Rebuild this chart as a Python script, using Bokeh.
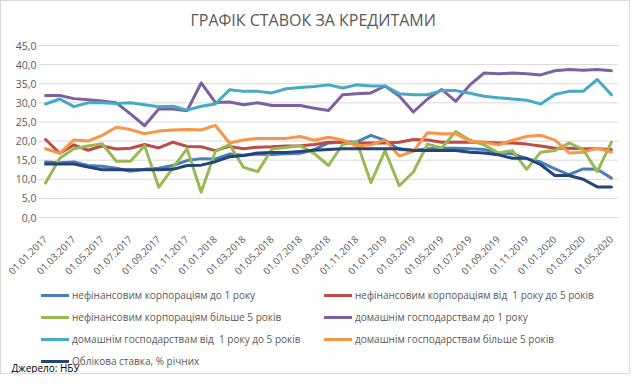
from bokeh.plotting import figure
from bokeh.models import FixedTicker, Legend, LegendItem, Label, Range1d, ColumnDataSource
from bokeh.embed import file_html
from bokeh.resources import INLINE

months = ["01.01.2017", "01.02.2017", "01.03.2017", "01.04.2017", "01.05.2017", "01.06.2017",
          "01.07.2017", "01.08.2017", "01.09.2017", "01.10.2017", "01.11.2017", "01.12.2017",
          "01.01.2018", "01.02.2018", "01.03.2018", "01.04.2018", "01.05.2018", "01.06.2018",
          "01.07.2018", "01.08.2018", "01.09.2018", "01.10.2018", "01.11.2018", "01.12.2018",
          "01.01.2019", "01.02.2019", "01.03.2019", "01.04.2019", "01.05.2019", "01.06.2019",
          "01.07.2019", "01.08.2019", "01.09.2019", "01.10.2019", "01.11.2019", "01.12.2019",
          "01.01.2020", "01.02.2020", "01.03.2020", "01.04.2020", "01.05.2020"]

nonfin_to1 = [14.5, 14.3, 14.5, 13.6, 13.4, 12.9, 12.1, 12.6, 12.9, 13.6, 14.9, 15.4, 15.3, 16.6,
              16.3, 16.6, 16.5, 16.7, 16.8, 17.8, 19.5, 19.7, 19.8, 21.5, 20.2, 17.8, 17.6, 18.0,
              18.1, 18.1, 18.0, 17.8, 16.9, 16.7, 15.4, 14.5, 12.7, 11.2, 12.7, 12.6, 10.3]
nonfin_1to5 = [20.4, 16.8, 19.0, 17.6, 18.7, 17.9, 18.1, 19.1, 18.2, 19.7, 18.6, 18.5, 17.5, 18.6,
               18.0, 18.4, 18.5, 18.7, 18.8, 19.1, 19.7, 19.7, 19.5, 19.5, 19.5, 19.7, 20.4, 20.3,
               19.7, 19.7, 19.7, 19.7, 19.5, 19.5, 19.2, 18.7, 18.1, 18.1, 18.0, 18.0, 17.8]
nonfin_over5 = [9.0, 15.5, 18.0, 18.7, 19.3, 14.7, 14.7, 18.8, 7.9, 13.0, 18.0, 6.6, 17.3, 19.1,
                13.1, 12.0, 17.9, 18.3, 18.8, 16.7, 13.6, 19.1, 19.8, 9.1, 17.5, 8.3, 11.9, 19.2,
                18.2, 22.5, 20.2, 19.0, 16.9, 17.5, 12.6, 17.1, 17.5, 19.5, 17.8, 12.0, 19.7]
hh_to1 = [31.9, 31.9, 31.1, 30.8, 30.5, 30.0, 27.1, 24.0, 28.4, 28.4, 27.9, 35.2, 30.1, 30.2,
          29.5, 30.0, 29.3, 29.3, 29.3, 28.6, 28.0, 32.1, 32.4, 32.6, 34.4, 31.8, 27.6, 31.0,
          33.5, 30.4, 34.7, 37.8, 37.6, 37.8, 37.6, 37.3, 38.4, 38.7, 38.5, 38.7, 38.4]
hh_1to5 = [29.7, 31.0, 29.0, 30.0, 30.0, 29.8, 30.0, 29.5, 29.0, 29.1, 28.1, 29.1, 29.7, 33.4,
           33.0, 33.0, 32.6, 33.7, 34.0, 34.3, 34.7, 33.9, 34.7, 34.4, 34.4, 32.4, 32.1, 32.1,
           33.2, 33.2, 32.5, 31.7, 31.3, 31.0, 30.7, 29.7, 32.2, 33.0, 33.0, 36.1, 32.1]
hh_over5 = [18.0, 16.8, 20.3, 20.0, 21.5, 23.6, 23.0, 21.9, 22.6, 22.9, 23.0, 22.9, 24.1, 19.5,
            20.3, 20.7, 20.7, 20.7, 21.2, 20.2, 21.0, 20.3, 18.7, 19.0, 20.3, 16.1, 17.3, 22.2,
            21.9, 21.9, 19.9, 19.7, 19.0, 20.2, 21.2, 21.5, 20.3, 16.9, 17.1, 18.1, 17.1]
key_rate = [14.0, 14.0, 14.0, 13.2, 12.5, 12.5, 12.5, 12.5, 12.5, 12.6, 13.6, 13.7, 14.6, 15.9,
            16.2, 16.9, 17.0, 17.0, 17.3, 17.6, 17.8, 18.0, 18.0, 18.0, 18.0, 18.0, 17.5, 17.5,
            17.5, 17.5, 17.1, 16.9, 16.4, 15.5, 15.5, 13.8, 11.0, 11.0, 10.0, 8.0, 8.0]

series_names = ["нефінансовим корпораціям до 1 року",
                "нефінансовим корпораціям від  1 року до 5 років",
                "нефінансовим корпораціям більше 5 років",
                "домашнім господарствам до 1 року",
                "домашнім господарствам від  1 року до 5 років",
                "домашнім господарствам більше 5 років",
                "Облікова ставка, % річних"]
series_colors = ["#4a7ebb", "#be4b48", "#98b954", "#7d60a0", "#46aac5", "#f79646", "#254478"]

y_ticks = [0, 5, 10, 15, 20, 25, 30, 35, 40, 45]
y_tick_labels = ["0,0", "5,0", "10,0", "15,0", "20,0", "25,0", "30,0", "35,0", "40,0", "45,0"]

FONT = "Open Sans"
GREY = "#595959"

# pixel layout of the figure (figure coordinates)
FIG_W, FIG_H = 628, 370
FRAME_L, FRAME_T = 5, 32          # frame spans nearly the whole figure
PLOT_L, PLOT_R = 37, 617          # value area, horizontally
DATA_T, DATA_H = 42, 172          # value area top and height (45..0)
FRAME_W = FIG_W - FRAME_L - 11
FRAME_H = FIG_H - FRAME_T

x_idx = list(range(len(months)))
x_lo, x_hi = x_idx[0] - 0.5, x_idx[-1] + 0.5
ppu = (PLOT_R - PLOT_L) / (x_hi - x_lo)
x_left = x_lo - (PLOT_L - FRAME_L) / ppu
x_right = x_hi + (FRAME_L + FRAME_W - PLOT_R) / ppu
y_top = 45 + (DATA_T - FRAME_T) * 45.0 / DATA_H
y_bottom = -(FIG_H - DATA_T - DATA_H) * 45.0 / DATA_H

p = figure(frame_width=FRAME_W, frame_height=FRAME_H, output_backend="svg",
           toolbar_location=None,
           x_range=Range1d(x_left, x_right), y_range=Range1d(y_bottom, y_top),
           min_border_left=FRAME_L, min_border_right=11, min_border_top=FRAME_T,
           min_border_bottom=0)
p.styles = {"border": "1px solid #d9d9d9", "box-sizing": "border-box"}

p.title.text = "ГРАФІК СТАВОК ЗА КРЕДИТАМИ"
p.title.align = "left"
p.title.offset = 184
p.title.text_font = FONT
p.title.text_font_size = "16px"
p.title.text_font_style = "normal"
p.title.text_color = GREY
p.title.standoff = 10

# horizontal grid lines over the value area only
p.segment(x0=[x_lo] * len(y_ticks), x1=[x_hi] * len(y_ticks), y0=y_ticks, y1=y_ticks,
          line_color="#d9d9d9", line_width=1)

src = ColumnDataSource(dict(x=x_idx, a=nonfin_to1, b=nonfin_1to5, c=nonfin_over5,
                            d=hh_to1, e=hh_1to5, f=hh_over5, g=key_rate))
items = []
for col, name, color in zip(["a", "b", "c", "d", "e", "f", "g"], series_names, series_colors):
    r = p.line("x", col, source=src, line_color=color, line_width=3,
               line_join="round", line_cap="round")
    items.append(LegendItem(label=name, renderers=[r]))

p.xaxis.fixed_location = 0
p.xaxis.ticker = FixedTicker(ticks=x_idx[::2])
p.xaxis.major_label_overrides = {i: months[i] for i in x_idx[::2]}
p.xaxis.major_label_orientation = 0.785398
p.xaxis.axis_line_color = None
p.xaxis.major_tick_line_color = None
p.xaxis.minor_tick_line_color = None
p.xaxis.major_tick_out = 0
p.xaxis.major_tick_in = 0
p.xaxis.major_label_standoff = 20
p.xaxis.major_label_text_font = FONT
p.xaxis.major_label_text_font_size = "9.8px"
p.xaxis.major_label_text_color = GREY

p.yaxis.fixed_location = x_lo
p.yaxis.ticker = FixedTicker(ticks=y_ticks)
p.yaxis.major_label_overrides = dict(zip(y_ticks, y_tick_labels))
p.yaxis.axis_line_color = None
p.yaxis.major_tick_line_color = None
p.yaxis.minor_tick_line_color = None
p.yaxis.major_tick_out = 0
p.yaxis.major_tick_in = 0
p.yaxis.major_label_standoff = 2
p.yaxis.major_label_text_font = FONT
p.yaxis.major_label_text_font_size = "10.5px"
p.yaxis.major_label_text_color = GREY

p.xgrid.grid_line_color = None
p.ygrid.grid_line_color = None
p.outline_line_color = None

legend = Legend(items=items, location=(35, 5), orientation="horizontal", ncols=2,
                label_text_font=FONT, label_text_font_size="10px", label_text_color=GREY,
                glyph_width=28, glyph_height=12, label_height=12, label_standoff=3,
                label_width=244, spacing=8, padding=0, margin=0, border_line_color=None,
                background_fill_alpha=0)
p.add_layout(legend, "center")

source_note = Label(x=5, y=6, x_units="screen", y_units="screen", text="Джерело: НБУ",
                    text_font=FONT, text_font_size="10px", text_color="black",
                    text_baseline="middle", text_align="left")
p.add_layout(source_note)

open("out.html", "w").write(file_html(p, INLINE))
